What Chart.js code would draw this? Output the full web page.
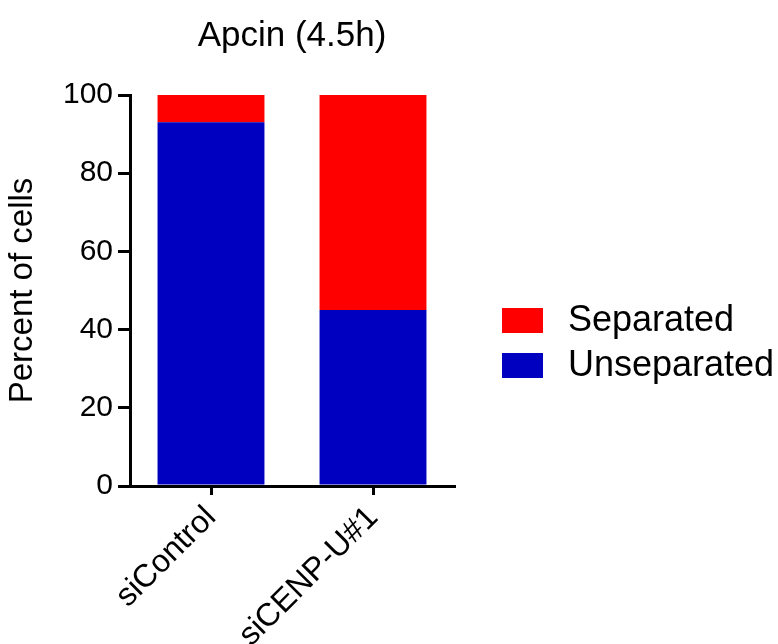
<!DOCTYPE html>
<html>
<head>
<meta charset="utf-8">
<script src="https://cdn.jsdelivr.net/npm/chart.js@4/dist/chart.umd.min.js"></script>
<style>
  html, body { margin: 0; padding: 0; background: #ffffff; }
  #wrap { width: 778px; height: 644px; }
</style>
</head>
<body>
<div id="wrap"><canvas id="c" width="778" height="644"></canvas></div>
<script>
// Percent of cells per condition, stacked
const categories = ['siControl', 'siCENP-U#1'];
const unseparated = [93, 45];
const separated = [7, 55];
const yTicks = [0, 20, 40, 60, 80, 100];
const chartTitle = 'Apcin (4.5h)';
const yTitle = 'Percent of cells';

const FONT = "'Liberation Sans', Arial, Helvetica, sans-serif";
const RED = '#FF0000';
const BLUE = '#0000C0';

// Title centred over the plot area
const plotTitle = {
  id: 'plotTitle',
  afterDraw(chart) {
    const { ctx, chartArea } = chart;
    ctx.save();
    ctx.font = '35px ' + FONT;
    ctx.fillStyle = '#000';
    ctx.textAlign = 'center';
    ctx.textBaseline = 'middle';
    ctx.fillText(chartTitle, (chartArea.left + chartArea.right) / 2, 36);
    ctx.restore();
  }
};

// Legend to the right, top series first
const sideLegend = {
  id: 'sideLegend',
  afterDraw(chart) {
    const { ctx, chartArea } = chart;
    const items = chart.data.datasets.slice().reverse();
    ctx.save();
    ctx.font = '36px ' + FONT;
    ctx.textBaseline = 'middle';
    ctx.textAlign = 'left';
    items.forEach((ds, i) => {
      const x = chartArea.right + 48;
      const y = 308 + i * 45;
      ctx.fillStyle = ds.backgroundColor;
      ctx.fillRect(x, y, 41, 25);
      ctx.fillStyle = '#000';
      ctx.fillText(ds.label, x + 66, y + 13);
    });
    ctx.restore();
  }
};

new Chart(document.getElementById('c'), {
  type: 'bar',
  data: {
    labels: categories,
    datasets: [
      { label: 'Unseparated', data: unseparated, backgroundColor: BLUE, borderWidth: 0 },
      { label: 'Separated', data: separated, backgroundColor: RED, borderWidth: 0 }
    ]
  },
  options: {
    responsive: false,
    animation: false,
    devicePixelRatio: 1,
    layout: { padding: { top: 95, right: 324, left: 0, bottom: 0 } },
    datasets: { bar: { barPercentage: 0.66, categoryPercentage: 1.0 } },
    plugins: {
      legend: { display: false },
      title: { display: false },
      tooltip: { enabled: false }
    },
    scales: {
      x: {
        stacked: true,
        offset: true,
        grid: { drawOnChartArea: false, drawTicks: true, tickLength: 9, color: '#000', lineWidth: 3, offset: false },
        border: { display: true, color: '#000', width: 3 },
        ticks: { color: '#000', font: { family: FONT, size: 32 }, minRotation: 45, maxRotation: 45, padding: 4 },
        afterFit(scale) { scale.height = 158; }
      },
      y: {
        stacked: true,
        min: 0,
        max: 100,
        afterBuildTicks(scale) { scale.ticks = yTicks.map(v => ({ value: v })); },
        grid: { drawOnChartArea: false, drawTicks: true, tickLength: 12, color: '#000', lineWidth: 3 },
        border: { display: true, color: '#000', width: 3 },
        ticks: { color: '#000', font: { family: FONT, size: 30 }, padding: 5 },
        title: { display: true, text: yTitle, color: '#000', font: { family: FONT, size: 33 }, padding: { top: 3, bottom: 0 } },
        afterFit(scale) { scale.width = 130; }
      }
    }
  },
  plugins: [plotTitle, sideLegend]
});
</script>
</body>
</html>
